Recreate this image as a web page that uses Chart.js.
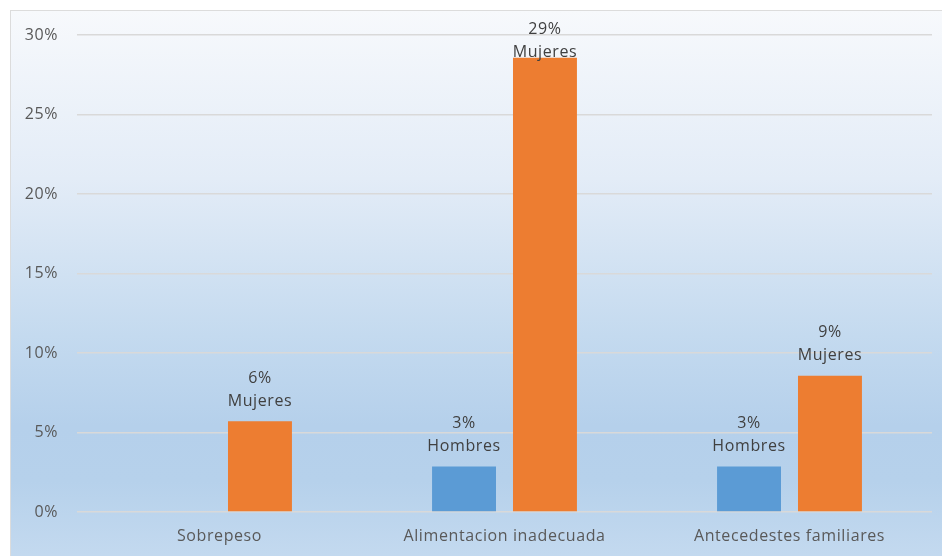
<!DOCTYPE html>
<html>
<head>
<meta charset="utf-8">
<script src="https://cdn.jsdelivr.net/npm/chart.js@4"></script>
<style>
  html, body { margin: 0; padding: 0; background: #ffffff; }
  body { width: 942px; height: 556px; position: relative; overflow: hidden; }
  #bg {
    position: absolute; left: 10px; top: 10px; width: 940px; height: 560px;
    border-left: 1.5px solid #dcdcdc; border-top: 1.5px solid #dcdcdc;
    background: linear-gradient(to bottom, #f7f9fc 0%, #e3ecf7 30%, #c4daef 58%, #b5d0eb 74%, #b6d1eb 84%, #c6dbf0 100%);
  }
  #wrap { position: absolute; left: 0; top: 0; width: 942px; height: 556px; }
</style>
</head>
<body>
<div id="bg"></div>
<div id="wrap"><canvas id="c" width="942" height="556"></canvas></div>
<script>
const categories = ["Sobrepeso", "Alimentacion inadecuada", "Antecedestes familiares"];
const hombres = [null, 2.86, 2.86];
const mujeres = [5.71, 28.57, 8.57];
const hombresLabels = ["", "3%", "3%"];
const mujeresLabels = ["6%", "29%", "9%"];
const yTicks = [0, 5, 10, 15, 20, 25, 30];

const FONT = "'Open Sans', sans-serif";

const spacingPlugin = {
  id: 'spacing',
  beforeDraw(chart) { chart.ctx.letterSpacing = '0.6px'; }
};

const labelPlugin = {
  id: 'twoLineLabels',
  afterDatasetsDraw(chart) {
    const ctx = chart.ctx;
    ctx.save();
    ctx.letterSpacing = '0.6px';
    ctx.font = "16px " + FONT;
    ctx.fillStyle = "#404040";
    ctx.textAlign = "center";
    ctx.textBaseline = "alphabetic";
    chart.data.datasets.forEach((ds, di) => {
      const meta = chart.getDatasetMeta(di);
      meta.data.forEach((el, i) => {
        const v = ds.data[i];
        if (v === null || v === undefined) return;
        const top = el.y;
        let b1 = Math.max(top - 38.5, 33.5);
        let b2 = b1 + 23;
        ctx.fillText(ds.valueLabels[i], el.x, b1);
        ctx.fillText(ds.label, el.x, b2);
      });
    });
    ctx.restore();
  }
};

new Chart(document.getElementById('c'), {
  type: 'bar',
  data: {
    labels: categories,
    datasets: [
      { label: 'Hombres', data: hombres, valueLabels: hombresLabels, backgroundColor: '#5b9bd5', borderWidth: 0 },
      { label: 'Mujeres', data: mujeres, valueLabels: mujeresLabels, backgroundColor: '#ed7d31', borderWidth: 0 }
    ]
  },
  options: {
    responsive: false,
    animation: false,
    events: [],
    layout: { padding: { left: 0, right: 10, top: 35, bottom: 0 } },
    plugins: { legend: { display: false }, tooltip: { enabled: false } },
    datasets: { bar: { categoryPercentage: 0.568, barPercentage: 0.79 } },
    scales: {
      x: {
        grid: { display: false, drawTicks: false },
        border: { display: false },
        ticks: { color: '#595959', font: { family: FONT, size: 16 }, padding: 15, maxRotation: 0 },
        afterFit(s) { s.height = 44; }
      },
      y: {
        min: 0, max: 30,
        afterBuildTicks(s) { s.ticks = yTicks.map(v => ({ value: v })); },
        grid: { color: '#d9d9d9', lineWidth: 1.5, drawTicks: false },
        border: { display: false },
        ticks: { color: '#595959', font: { family: FONT, size: 16 }, padding: 19, callback: v => v + '%' },
        afterFit(s) { s.width = 77; }
      }
    }
  },
  plugins: [spacingPlugin, labelPlugin]
});
</script>
</body>
</html>
